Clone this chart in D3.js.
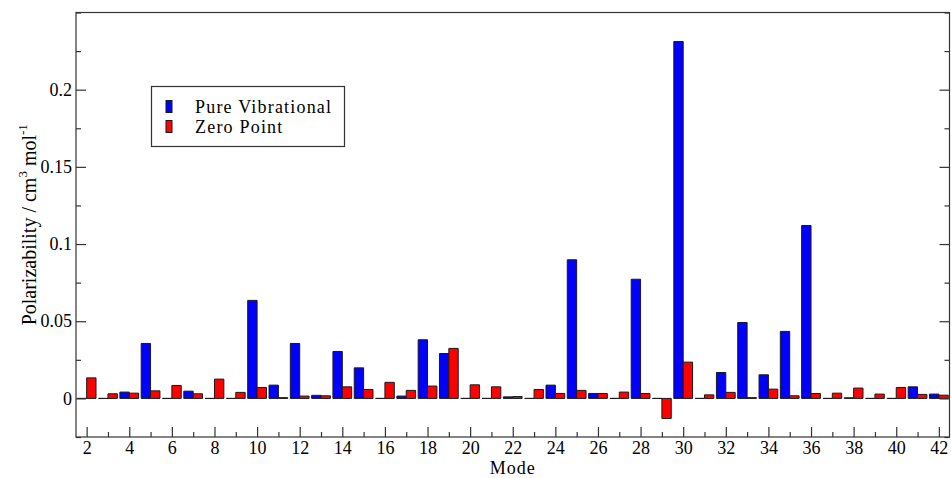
<!DOCTYPE html>
<html>
<head>
<meta charset="utf-8">
<script src="https://cdn.jsdelivr.net/npm/d3@7"></script>
<style>
  html, body { margin: 0; padding: 0; background: #fff; }
  svg { display: block; }
  svg text { font-family: "Liberation Serif", "Times New Roman", "DejaVu Serif", serif; fill: #000; }
</style>
</head>
<body>
<svg id="chart" width="951" height="478"></svg>
<script>
// Vibrational modes and their polarizability contributions (cm^3 mol^-1)
const modes = [2, 3, 4, 5, 6, 7, 8, 9, 10, 11, 12, 13, 14, 15, 16, 17, 18, 19, 20, 21, 22,
               23, 24, 25, 26, 27, 28, 29, 30, 31, 32, 33, 34, 35, 36, 37, 38, 39, 40, 41, 42];
const pureVibrational = [0, 0, 0.0041, 0.0356, 0, 0.0047, 0, 0, 0.0635, 0.0086, 0.0356, 0.0020, 0.0304, 0.0198, 0, 0.0015, 0.0380, 0.0291, 0, 0, 0.0010,
                         0, 0.0086, 0.0898, 0.0032, 0, 0.0772, 0, 0.2312, 0, 0.0168, 0.0492, 0.0153, 0.0434, 0.1120, 0, 0.0004, 0, 0, 0.0075, 0.0028];
const zeroPoint = [0.0133, 0.0030, 0.0034, 0.0049, 0.0084, 0.0030, 0.0125, 0.0039, 0.0071, 0.0005, 0.0015, 0.0017, 0.0075, 0.0058, 0.0104, 0.0052, 0.0080, 0.0324, 0.0088, 0.0075, 0.0012,
                   0.0058, 0.0032, 0.0052, 0.0032, 0.0041, 0.0032, -0.0130, 0.0235, 0.0023, 0.0039, 0.0005, 0.0060, 0.0017, 0.0032, 0.0034, 0.0067, 0.0028, 0.0071, 0.0026, 0.0021];
const seriesNames = ["Pure Vibrational", "Zero Point"];
const seriesColors = ["#0000ff", "#ff0000"];
const xTickLabels = [2, 4, 6, 8, 10, 12, 14, 16, 18, 20, 22, 24, 26, 28, 30, 32, 34, 36, 38, 40, 42];
const yTickLabels = [0, 0.05, 0.1, 0.15, 0.2];

const svg = d3.select("#chart");
const plotLeft = 76, plotRight = 949.5, plotTop = 12.5, plotBottom = 437;

const x = d3.scaleLinear().domain([1.5, 42.5]).range([plotLeft, plotRight]);
const y = d3.scaleLinear().domain([-0.025, 0.25]).range([plotBottom, plotTop]);
const barW = x(0.44) - x(0);

// bars as closed paths so zero-valued bars still show as a flat outline
const bars = svg.append("g");
const drawSeries = (values, color, offset) => {
  bars.selectAll(null)
    .data(modes.map((m, i) => ({ m, v: values[i] })))
    .enter().append("path")
    .attr("d", d => {
      const x0 = x(d.m) + offset * barW, x1 = x0 + barW;
      const y0 = y(0), y1 = y(d.v);
      return `M${x0},${y0}V${y1}H${x1}V${y0}Z`;
    })
    .attr("fill", color)
    .attr("stroke", "#1a1a1a")
    .attr("stroke-width", 1);
};
drawSeries(pureVibrational, seriesColors[0], -1);
drawSeries(zeroPoint, seriesColors[1], 0);

// frame
svg.append("rect")
  .attr("x", plotLeft).attr("y", plotTop)
  .attr("width", plotRight - plotLeft).attr("height", plotBottom - plotTop)
  .attr("fill", "none").attr("stroke", "#333").attr("stroke-width", 1.2);

const tickStyle = g => {
  g.attr("font-family", null).attr("font-size", null);
  g.select(".domain").remove();
  g.selectAll(".tick line").attr("stroke", "#333").attr("stroke-width", 1.2);
  g.selectAll(".tick text").style("font-size", "18px");
};

// y axis: major ticks with labels, minor ticks between, mirrored on the right
const yMinor = d3.range(-0.025, 0.2501, 0.025).filter(v => !yTickLabels.some(t => Math.abs(t - v) < 1e-9));
svg.append("g").attr("transform", `translate(${plotLeft},0)`)
  .call(d3.axisLeft(y).tickValues(yTickLabels).tickSize(-10).tickPadding(4).tickFormat(d3.format("")))
  .call(tickStyle);
svg.append("g").attr("transform", `translate(${plotLeft},0)`)
  .call(d3.axisLeft(y).tickValues(yMinor).tickSize(-5).tickFormat(""))
  .call(tickStyle);
svg.append("g").attr("transform", `translate(${plotRight},0)`)
  .call(d3.axisRight(y).tickValues(yTickLabels).tickSize(-10).tickFormat(""))
  .call(tickStyle);
svg.append("g").attr("transform", `translate(${plotRight},0)`)
  .call(d3.axisRight(y).tickValues(yMinor).tickSize(-5).tickFormat(""))
  .call(tickStyle);

// x axis: even modes labelled, odd modes minor
const xMinor = modes.filter(m => !xTickLabels.includes(m));
svg.append("g").attr("transform", `translate(0,${plotBottom})`)
  .call(d3.axisBottom(x).tickValues(xTickLabels).tickSize(-10).tickPadding(4).tickFormat(d3.format("d")))
  .call(tickStyle);
svg.append("g").attr("transform", `translate(0,${plotBottom})`)
  .call(d3.axisBottom(x).tickValues(xMinor).tickSize(-5).tickFormat(""))
  .call(tickStyle);

// axis titles
svg.append("text")
  .attr("x", (plotLeft + plotRight) / 2).attr("y", 473.5)
  .attr("text-anchor", "middle").style("font-size", "18px").style("letter-spacing", "1px")
  .text("Mode");

const yTitle = svg.append("text")
  .attr("transform", `translate(36,${(plotTop + plotBottom) / 2}) rotate(-90)`)
  .attr("text-anchor", "middle").style("font-size", "20px");
yTitle.append("tspan").text("Polarizability / cm");
yTitle.append("tspan").attr("dy", -9).style("font-size", "13px").text("3");
yTitle.append("tspan").attr("dy", 9).text(" mol");
yTitle.append("tspan").attr("dy", -9).style("font-size", "13px").text("-1");

// legend
const legend = svg.append("g");
legend.append("rect")
  .attr("x", 151.5).attr("y", 86.5).attr("width", 193).attr("height", 60)
  .attr("fill", "#fff").attr("stroke", "#333").attr("stroke-width", 1.2);
seriesNames.forEach((name, i) => {
  legend.append("rect")
    .attr("x", 166).attr("y", 100.5 + i * 20).attr("width", 6).attr("height", 12)
    .attr("fill", seriesColors[i]).attr("stroke", "#1a1a1a").attr("stroke-width", 1);
  legend.append("text")
    .attr("x", 195).attr("y", 112.5 + i * 20)
    .style("font-size", "18px").style("letter-spacing", "1.2px")
    .text(name);
});
</script>
</body>
</html>
